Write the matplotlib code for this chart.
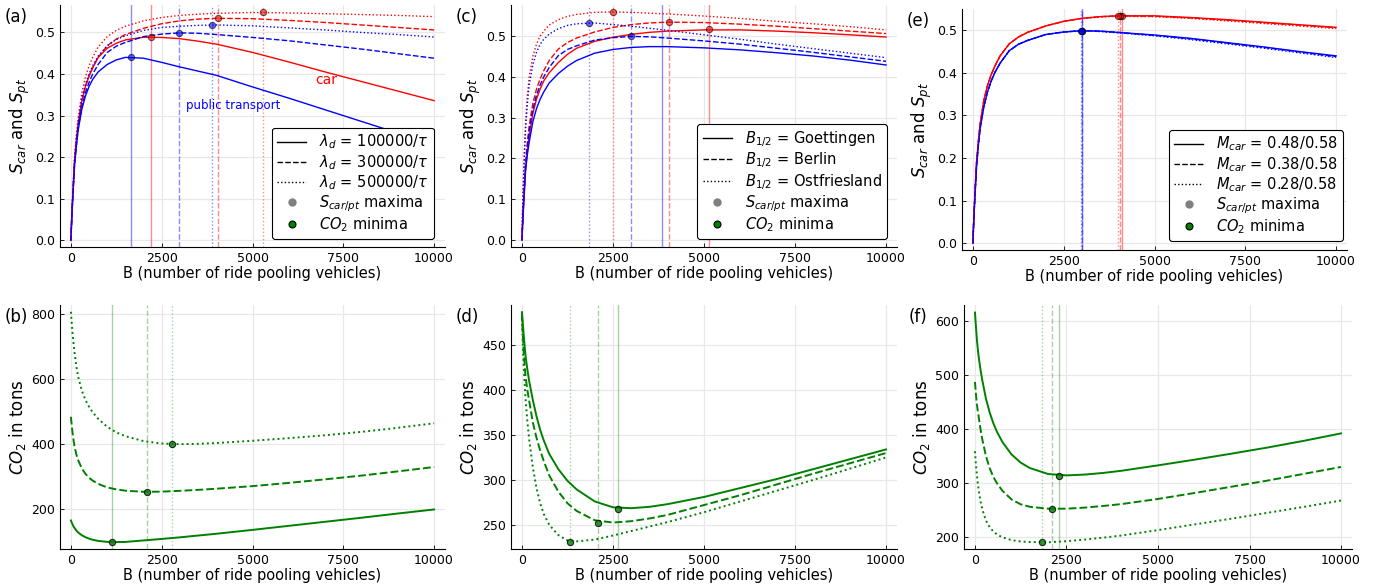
import matplotlib
matplotlib.use("Agg")
import matplotlib.pyplot as plt
from matplotlib.lines import Line2D

# number of ride pooling vehicles (positions where the curves were read)
B = [0, 25, 50, 75, 100, 150, 200, 300, 400, 500, 600, 750, 1000, 1250, 1500, 2000,
     2500, 3000, 3500, 4000, 5000, 6000, 7000, 8000, 9000, 10000]

# baseline (lambda_d = 300000/tau, Berlin, M_car = 0.38/0.58)
car_base = [0, 0.06, 0.105, 0.15, 0.19, 0.24, 0.28, 0.335, 0.37, 0.395, 0.415, 0.44, 0.468,
            0.484, 0.495, 0.51, 0.521, 0.528, 0.532, 0.534, 0.533, 0.529, 0.524, 0.518, 0.512, 0.506]
pt_base = [0, 0.055, 0.10, 0.14, 0.18, 0.23, 0.27, 0.32, 0.355, 0.38, 0.40, 0.423, 0.452,
           0.467, 0.476, 0.49, 0.496, 0.499, 0.498, 0.495, 0.488, 0.480, 0.470, 0.460, 0.449, 0.438]

# (a) lambda_d
car_a1 = [0, 0.06, 0.105, 0.15, 0.19, 0.24, 0.28, 0.335, 0.37, 0.395, 0.415, 0.44, 0.462,
          0.474, 0.482, 0.4885, 0.488, 0.485, 0.479, 0.472, 0.452, 0.429, 0.405, 0.382, 0.359, 0.336]
pt_a1 = [0, 0.055, 0.10, 0.14, 0.18, 0.225, 0.265, 0.315, 0.347, 0.37, 0.387, 0.405, 0.423,
         0.434, 0.440, 0.438, 0.428, 0.417, 0.407, 0.397, 0.369, 0.342, 0.314, 0.286, 0.258, 0.230]
car_a5 = [0, 0.063, 0.11, 0.157, 0.20, 0.255, 0.295, 0.355, 0.393, 0.42, 0.44, 0.465, 0.49,
          0.505, 0.515, 0.528, 0.536, 0.541, 0.544, 0.546, 0.548, 0.547, 0.545, 0.543, 0.541, 0.538]
pt_a5 = [0, 0.058, 0.105, 0.148, 0.19, 0.24, 0.28, 0.34, 0.375, 0.40, 0.42, 0.443, 0.468,
         0.483, 0.492, 0.505, 0.512, 0.515, 0.517, 0.518, 0.516, 0.511, 0.506, 0.500, 0.495, 0.489]
car_max_a = [(2210, 0.489), (4040, 0.534), (5290, 0.548)]
pt_max_a = [(1650, 0.441), (2990, 0.499), (3890, 0.518)]

# (c) B_1/2
car_c_goe = [0, 0.05, 0.095, 0.137, 0.175, 0.22, 0.255, 0.31, 0.345, 0.37, 0.39, 0.41, 0.435,
             0.455, 0.47, 0.487, 0.497, 0.504, 0.509, 0.512, 0.515, 0.515, 0.512, 0.508, 0.503, 0.4975]
pt_c_goe = [0, 0.047, 0.09, 0.13, 0.17, 0.21, 0.24, 0.29, 0.322, 0.345, 0.363, 0.385, 0.408,
            0.426, 0.44, 0.458, 0.467, 0.472, 0.474, 0.474, 0.471, 0.466, 0.459, 0.451, 0.441, 0.429]
car_c_ost = [0, 0.10, 0.17, 0.235, 0.29, 0.355, 0.40, 0.45, 0.48, 0.50, 0.512, 0.527, 0.54,
             0.548, 0.553, 0.558, 0.559, 0.558, 0.556, 0.554, 0.549, 0.543, 0.536, 0.53, 0.523, 0.515]
pt_c_ost = [0, 0.095, 0.16, 0.22, 0.27, 0.335, 0.38, 0.43, 0.46, 0.48, 0.492, 0.505, 0.518,
            0.526, 0.53, 0.532, 0.528, 0.524, 0.519, 0.514, 0.503, 0.492, 0.480, 0.469, 0.458, 0.447]
car_max_c = [(5150, 0.516), (4040, 0.534), (2510, 0.559)]
pt_max_c = [(3846, None), (2990, 0.499), (1840, 0.532)]

# (e) M_car
car_e48 = [0, 0.06, 0.105, 0.15, 0.19, 0.24, 0.28, 0.335, 0.37, 0.395, 0.415, 0.44, 0.468,
           0.484, 0.495, 0.51, 0.521, 0.528, 0.532, 0.534, 0.534, 0.530, 0.525, 0.519, 0.513, 0.507]
pt_e48 = [0, 0.055, 0.10, 0.14, 0.18, 0.23, 0.27, 0.32, 0.355, 0.38, 0.40, 0.423, 0.452,
          0.467, 0.476, 0.49, 0.496, 0.499, 0.498, 0.495, 0.489, 0.481, 0.471, 0.461, 0.450, 0.440]
car_e28 = [0, 0.06, 0.105, 0.15, 0.19, 0.24, 0.28, 0.335, 0.37, 0.395, 0.415, 0.44, 0.468,
           0.484, 0.495, 0.51, 0.521, 0.528, 0.531, 0.533, 0.532, 0.528, 0.522, 0.516, 0.510, 0.504]
pt_e28 = [0, 0.055, 0.10, 0.14, 0.18, 0.23, 0.27, 0.32, 0.355, 0.38, 0.40, 0.423, 0.452,
          0.467, 0.476, 0.49, 0.496, 0.499, 0.497, 0.494, 0.487, 0.478, 0.468, 0.458, 0.447, 0.436]
car_max_e = [(4100, 0.534), (4040, 0.534), (3990, 0.533)]
pt_max_e = [(3010, 0.499), (3000, 0.499), (2990, 0.499)]

# CO2 in tons
co2_b = [
    [164, 157, 151, 145, 141, 133, 127, 118.5, 112.5, 108, 104.5, 101, 98, 97.3, 97.8, 102.5,
     107, 112, 117.5, 123, 135, 147.5, 160, 172.5, 185.5, 198],
    [484, 455, 430, 410, 393, 368, 350, 325, 308, 296, 287, 277, 266, 260, 256, 252.5,
     253, 255.5, 258.5, 262, 270, 280, 291, 302.5, 315.5, 329],
    [808, 770, 738, 708, 682, 640, 608, 565, 536, 515, 498, 478, 453, 436, 424, 409,
     401.5, 399.5, 400.5, 403, 410, 418, 427, 437.5, 450, 464],
]
co2_min_b = [(1130, 97), (2100, 252), (2780, 399)]
co2_d = [
    [487, 474, 461, 449, 438, 423, 410, 389, 371, 356, 344, 329, 312, 299, 289.5, 276,
     269.5, 268.5, 270, 273, 281, 291, 301, 312, 323, 334],
    [485, 462, 443, 428, 415, 400, 388, 364, 347, 333, 321, 305, 287, 274, 265.5, 255,
     252.5, 254, 257, 261, 272, 283, 295, 307, 318.5, 330],
    [480, 450, 427, 407, 390, 365, 345, 314, 291, 274, 262, 250, 238.5, 232.5, 231.5, 233.5,
     238, 243, 248, 253, 264, 276, 288, 300, 312.5, 325],
]
co2_min_d = [(2650, 268), (2100, 252), (1330, 231)]
co2_f = [
    [615, 590, 567, 549, 534, 510, 490, 456, 431, 411, 395, 376, 353, 338, 328, 317,
     314.5, 316, 319, 323, 333, 343.5, 354.5, 366, 378.5, 392],
    [487, 465, 447, 434, 423, 400, 381, 350, 328, 312, 300, 286, 270, 261, 256.5, 253,
     253, 255, 258, 261.5, 271, 282, 293.5, 305, 317.5, 330],
    [359, 335, 317, 301, 288, 267, 252, 231, 219, 211, 205.5, 200, 195, 192.5, 191.5, 191,
     193, 196, 199.5, 203.5, 213.5, 224, 234.5, 245.5, 256.5, 268],
]
co2_min_f = [(2300, 314), (2100, 253), (1840, 191)]

labels_a = [r"$\lambda_d$ = 100000/$\tau$", r"$\lambda_d$ = 300000/$\tau$", r"$\lambda_d$ = 500000/$\tau$"]
labels_c = [r"$B_{1/2}$ = Goettingen", r"$B_{1/2}$ = Berlin", r"$B_{1/2}$ = Ostfriesland"]
labels_e = [r"$M_{car}$ = 0.48/0.58", r"$M_{car}$ = 0.38/0.58", r"$M_{car}$ = 0.28/0.58"]

styles = ['-', (0, (4, 1.6)), (0, (1, 1.6))]
GREEN = '#008000'

fig = plt.figure(figsize=(13.83, 5.87), dpi=100)
W, H = 1383, 587


def make_ax(x0, x1, y0, y1):
    ax = fig.add_axes([x0 / W, 1 - y1 / H, (x1 - x0) / W, (y1 - y0) / H])
    for s in ['top', 'right']:
        ax.spines[s].set_visible(False)
    for s in ['left', 'bottom']:
        ax.spines[s].set_linewidth(0.8)
    ax.grid(True, color='#e8e8e8', lw=0.9)
    ax.set_axisbelow(True)
    ax.tick_params(direction='in', length=3, width=0.6, labelsize=9)
    ax.set_xlim(-300, 10300)
    ax.set_xticks([0, 2500, 5000, 7500, 10000])
    ax.set_xlabel("B (number of ride pooling vehicles)", fontsize=10.5, labelpad=1)
    return ax


def top_panel(ax, cars, pts, car_max, pt_max, labels, tag, anchor):
    for i in range(3):
        ls = styles[i]
        ax.axvline(car_max[i][0], color='red', ls=ls, lw=1, alpha=0.45)
        ax.axvline(pt_max[i][0], color='blue', ls=ls, lw=1, alpha=0.45)
    for i in range(3):
        ax.plot(B, cars[i], color='red', ls=styles[i], lw=1)
        ax.plot(B, pts[i], color='blue', ls=styles[i], lw=1)
    for (bx, by), c in [(m, 'red') for m in car_max] + [(m, 'blue') for m in pt_max]:
        if by is not None:
            ax.plot(bx, by, 'o', ms=4.5, mfc=c, mec='black', mew=0.8, alpha=0.6, zorder=5)
    ax.set_yticks([0, 0.1, 0.2, 0.3, 0.4, 0.5])
    ax.set_yticklabels(["0.0", "0.1", "0.2", "0.3", "0.4", "0.5"])
    ax.set_ylabel(r"$S_{car}$ and $S_{pt}$", fontsize=12, labelpad=2)
    handles = [Line2D([], [], color='black', ls=styles[i], lw=1) for i in range(3)]
    handles += [Line2D([], [], ls='none', marker='o', ms=5, mfc='gray', mec='gray'),
                Line2D([], [], ls='none', marker='o', ms=5, mfc=GREEN, mec='black', mew=0.8)]
    leg = ax.legend(handles, labels + [r"$S_{car/pt}$ maxima", r"$CO_2$ minima"],
                    loc='lower right', bbox_to_anchor=anchor, borderaxespad=0,
                    fontsize=10.5, frameon=True, fancybox=True, framealpha=1,
                    edgecolor='black', handlelength=2.0, labelspacing=0.1,
                    borderpad=0.35, handletextpad=0.9)
    leg.get_frame().set_linewidth(0.8)
    ax.text(-0.143, 0.95, tag, transform=ax.transAxes, fontsize=12, va='center')


def bottom_panel(ax, curves, mins, yticks, tag):
    for i in range(3):
        ax.axvline(mins[i][0], color=GREEN, ls=styles[i], lw=1, alpha=0.35)
    for i in range(3):
        ax.plot(B, curves[i], color=GREEN, ls=styles[i], lw=1.4)
    for bx, by in mins:
        ax.plot(bx, by, 'o', ms=4.5, mfc=GREEN, mec='black', mew=0.8, alpha=0.8, zorder=5)
    ax.set_yticks(yticks)
    ax.set_ylabel(r"$CO_2$ in tons", fontsize=12, labelpad=2)
    ax.text(-0.143, 0.95, tag, transform=ax.transAxes, fontsize=12, va='center')


ax_a = make_ax(60, 445, 5, 247)
top_panel(ax_a, [car_a1, car_base, car_a5], [pt_a1, pt_base, pt_a5], car_max_a, pt_max_a,
          labels_a, "(a)", (0.971, 0.033))
ax_a.set_ylim(-0.016, 0.566)
ax_a.text(7040, 0.386, "car", color='red', fontsize=10, ha='center', va='center')
ax_a.text(4470, 0.324, "public transport", color='blue', fontsize=8.5, ha='center', va='center')

ax_c = make_ax(511, 897, 5, 247)
top_panel(ax_c, [car_c_goe, car_base, car_c_ost], [pt_c_goe, pt_base, pt_c_ost], car_max_c, pt_max_c,
          labels_c, "(c)", (0.974, 0.033))
ax_c.set_ylim(-0.017, 0.576)

ax_e = make_ax(962, 1347, 9, 250)
top_panel(ax_e, [car_e48, car_base, car_e28], [pt_e48, pt_base, pt_e28], car_max_e, pt_max_e,
          labels_e, "(e)", (0.99, 0.037))
ax_e.set_ylim(-0.016, 0.550)

ax_b = make_ax(60, 445, 305, 549)
bottom_panel(ax_b, co2_b, co2_min_b, [200, 400, 600, 800], "(b)")
ax_b.set_ylim(76, 829)

ax_d = make_ax(511, 897, 305, 549)
bottom_panel(ax_d, co2_d, co2_min_d, [250, 300, 350, 400, 450], "(d)")
ax_d.set_ylim(223, 495)

ax_f = make_ax(964, 1352, 305, 549)
bottom_panel(ax_f, co2_f, co2_min_f, [200, 300, 400, 500, 600], "(f)")
ax_f.set_ylim(178.6, 629)

fig.savefig("out.png", dpi=100)
